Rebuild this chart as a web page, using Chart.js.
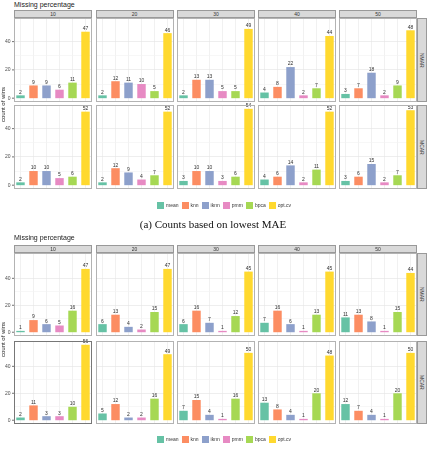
<!DOCTYPE html>
<html>
<head>
<meta charset="utf-8">
<script src="https://cdn.jsdelivr.net/npm/chart.js@4.4.1/dist/chart.umd.min.js"></script>
<style>
  body { margin: 0; width: 431px; height: 449px; position: relative; overflow: hidden; background: #fff;
         font-family: "Liberation Sans", Arial, sans-serif; }
  .abs { position: absolute; }
  .strip { position: absolute; background: #D9D9D9; border: 1px solid #999; box-sizing: border-box;
           font-size: 5px; color: #333; display: flex; align-items: center; justify-content: center; }
  .vstrip { writing-mode: vertical-rl; }
  .title { position: absolute; font-size: 7px; color: #1a1a1a; white-space: nowrap; }
  .ytitle { position: absolute; font-size: 6px; color: #1a1a1a; writing-mode: vertical-rl; transform: rotate(180deg);
            white-space: nowrap; text-align: center; }
  .legend { position: absolute; display: flex; align-items: center; font-size: 5px; color: #333; }
  .legend .sw { width: 7px; height: 7px; margin-right: 2px; }
  .legend .lb { margin-right: 3px; }
  .caption { position: absolute; font-family: "Liberation Serif", "DejaVu Serif", serif; font-size: 11px;
             color: #111; white-space: nowrap; text-align: center; }
</style>
</head>
<body>
<script>
// data
const methods = ['mean', 'knn', 'iknn', 'pmm', 'bpca', 'opt.cv'];
const colors = ['#66C2A5', '#FC8D62', '#8DA0CB', '#E78AC3', '#A6D854', '#FFD92F'];
const percents = ['10', '20', '30', '40', '50'];
const mechanisms = ['NMAR', 'MCAR'];
const yTicks = [0, 20, 40];

// (a) counts based on lowest MAE, one list per missing percentage
const maeNMAR = [[2, 9, 9, 6, 11, 47], [2, 12, 11, 10, 5, 46], [2, 13, 13, 5, 5, 49], [4, 8, 22, 2, 7, 44], [3, 7, 18, 2, 9, 48]];
const maeMCAR = [[2, 10, 10, 5, 6, 52], [2, 12, 9, 4, 7, 52], [3, 10, 10, 3, 6, 54], [4, 6, 14, 2, 11, 52], [3, 6, 15, 2, 7, 53]];
// (b) second figure
const bNMAR = [[1, 9, 6, 5, 16, 47], [6, 13, 4, 2, 15, 47], [6, 16, 7, 1, 12, 45], [7, 16, 6, 1, 13, 45], [11, 13, 8, 1, 15, 44]];
const bMCAR = [[2, 11, 3, 3, 10, 56], [5, 12, 2, 2, 16, 49], [7, 15, 4, 1, 16, 50], [13, 8, 4, 1, 20, 48], [12, 7, 4, 1, 20, 50]];

// layout
const colLeft = [14, 95.5, 177, 258, 339];
const colW = 78;
const axisW = 14;
const padTop = 6;

const frame = {
  id: 'frame',
  afterDraw(chart, args, opts) {
    const a = chart.chartArea, c = chart.ctx;
    c.save();
    c.strokeStyle = opts.color || '#B3B3B3';
    c.lineWidth = 1;
    c.strokeRect(Math.round(a.left) + 0.5, Math.round(a.top) + 0.5, Math.round(a.right - a.left) - 1, Math.round(a.bottom - a.top) - 1);
    c.restore();
  }
};

const valueLabels = {
  id: 'valueLabels',
  afterDatasetsDraw(chart) {
    const c = chart.ctx;
    const meta = chart.getDatasetMeta(0);
    c.save();
    c.font = '5px "Liberation Sans"';
    c.fillStyle = '#333';
    c.textAlign = 'center';
    c.textBaseline = 'bottom';
    meta.data.forEach((bar, i) => {
      c.fillText(chart.data.datasets[0].data[i], bar.x, bar.y - 0.5);
    });
    c.restore();
  }
};

// tick labels of the first column, placed with the chart's own y scale
const yLabels = {
  id: 'yLabels',
  afterDraw(chart) {
    const c = chart.ctx, s = chart.scales.y, a = chart.chartArea;
    c.save();
    c.font = '5px "Liberation Sans"';
    c.fillStyle = '#4D4D4D';
    c.strokeStyle = '#333';
    c.lineWidth = 0.7;
    c.textAlign = 'right';
    c.textBaseline = 'middle';
    yTicks.forEach(v => {
      const y = s.getPixelForValue(v);
      c.fillText(v, a.left - 3.5, y);
      c.beginPath();
      c.moveTo(a.left - 2, y);
      c.lineTo(a.left, y);
      c.stroke();
    });
    c.restore();
  }
};

function addDiv(cls, text, style) {
  const d = document.createElement('div');
  d.className = cls;
  d.textContent = text;
  Object.assign(d.style, style);
  document.body.appendChild(d);
  return d;
}

function facet(left, top, h, vals, yMax, first, border) {
  const wrap = addDiv('abs', '', {
    left: (first ? left - axisW : left) + 'px', top: (top - padTop) + 'px',
    width: (first ? colW + axisW : colW) + 'px', height: (h + padTop) + 'px'
  });
  const cv = document.createElement('canvas');
  wrap.appendChild(cv);
  const plugins = [frame, valueLabels];
  if (first) plugins.push(yLabels);
  new Chart(cv, {
    type: 'bar',
    data: {
      labels: methods,
      datasets: [{ data: vals, backgroundColor: colors, barPercentage: 0.65, categoryPercentage: 1 }]
    },
    options: {
      responsive: true,
      maintainAspectRatio: false,
      animation: false,
      layout: { padding: { top: padTop, left: first ? axisW : 0, right: 0, bottom: 0 } },
      plugins: { legend: { display: false }, tooltip: { enabled: false }, frame: { color: border } },
      scales: {
        x: {
          ticks: { display: false },
          grid: { offset: false, color: '#EBEBEB', lineWidth: 0.7, drawTicks: false },
          border: { display: false },
          afterFit: s => { s.height = 0; }
        },
        y: {
          min: -yMax * 0.05 / 1.05, max: yMax,
          ticks: { display: false, stepSize: 10 },
          grid: {
            color: ctx => (Math.abs(ctx.tick.value % 20) < 1e-6 ? '#E6E6E6' : '#F4F4F4'),
            lineWidth: 0.7,
            drawTicks: false
          },
          border: { display: false },
          afterBuildTicks: s => { s.ticks = s.ticks.filter(t => t.value >= 0 && Math.abs(t.value % 10) < 1e-6); },
          afterFit: s => { s.width = 0; }
        }
      }
    },
    plugins: plugins
  });
}

function block(cfg, rowsData) {
  addDiv('title', 'Missing percentage', { left: '14px', top: cfg.titleTop + 'px' });
  percents.forEach((p, i) => {
    addDiv('strip', p, { left: colLeft[i] + 'px', top: cfg.stripTop + 'px', width: colW + 'px', height: (cfg.rowTops[0] - cfg.stripTop) + 'px' });
  });
  mechanisms.forEach((m, r) => {
    addDiv('strip vstrip', m, { left: '417px', top: cfg.rowTops[r] + 'px', width: '10px', height: cfg.rowH + 'px' });
    percents.forEach((p, i) => {
      const border = (cfg.dark && cfg.dark[0] === r && cfg.dark[1] === i) ? '#777' : '#B3B3B3';
      facet(colLeft[i], cfg.rowTops[r], cfg.rowH, rowsData[r][i], cfg.yMax, i === 0, border);
    });
  });
  const mid = (cfg.rowTops[0] + cfg.rowTops[1] + cfg.rowH) / 2;
  addDiv('ytitle', 'count of wins', { left: '0px', top: (mid - 25) + 'px', height: '50px', width: '7px' });
  const lg = addDiv('legend', '', { left: '157px', top: (cfg.legendY - 3.5) + 'px', height: '7px' });
  methods.forEach((m, i) => {
    const sw = document.createElement('div');
    sw.className = 'sw';
    sw.style.background = colors[i];
    const lb = document.createElement('div');
    lb.className = 'lb';
    lb.textContent = m;
    lg.appendChild(sw);
    lg.appendChild(lb);
  });
  if (cfg.caption) {
    addDiv('caption', cfg.caption, { left: '0px', width: '426px', top: (cfg.captionY - 7) + 'px' });
  }
}

block({ titleTop: 1, stripTop: 10, rowTops: [18, 105], rowH: 84, legendY: 205, yMax: 56.7,
        caption: '(a) Counts based on lowest MAE', captionY: 225 }, [maeNMAR, maeMCAR]);
block({ titleTop: 234, stripTop: 245, rowTops: [253, 341], rowH: 83, legendY: 439, yMax: 58.8, dark: [1, 0] }, [bNMAR, bMCAR]);
</script>
</body>
</html>
